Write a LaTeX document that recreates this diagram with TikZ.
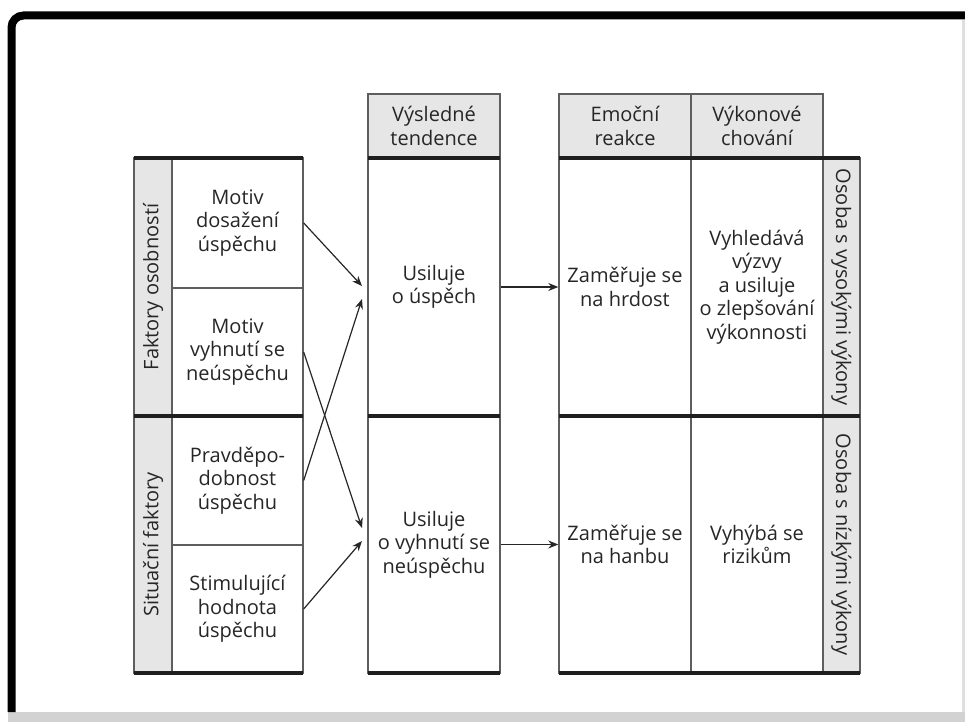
\documentclass[tikz,border=0pt]{standalone}
\usepackage{fontspec}
\setmainfont{Open Sans}
\usetikzlibrary{arrows.meta}
\definecolor{rule}{HTML}{5E5E5E}
\definecolor{shade}{HTML}{E6E6E6}
\definecolor{ink}{HTML}{262626}
\tikzset{
  cell/.style={draw=rule, line width=0.7pt, text=ink, align=center, inner sep=1pt},
  headcell/.style={cell, fill=shade, minimum width=66pt, minimum height=32pt},
  stripcell/.style={cell, fill=shade, inner sep=0pt},
  boldrule/.style={draw=black!88, line width=1.6pt}
}

\begin{document}
\begin{tikzpicture}[x=0.5pt, y=-0.5pt, font=\fontsize{10}{11.75}\selectfont]
        \useasboundingbox (0,0) rectangle (965,722);
        % frame
        \fill[white] (0,0) rectangle (965,722);
        \fill[gray!35] (8,712) rectangle (965,722);
        \draw[gray!25, line width=1.5pt] (963,20) -- (963,712);
        \draw[line width=4pt, rounded corners=6pt] (11.5,712) -- (11.5,15.5) -- (965,15.5);
        % arrow targets
        \coordinate (t1) at (362,286);
        \coordinate (t2) at (362,299);
        \coordinate (t3) at (362,528);
        \coordinate (t4) at (362,541);
        \begin{scope}[every node/.style={cell, minimum width=65.5pt}]
                \node[stripcell, rotate=90, minimum width=129pt, minimum height=19pt] (FO) at (153,287) {Faktory osobností};
                \node[stripcell, rotate=90, minimum width=128.5pt, minimum height=19pt] (SF) at (153,544.5) {Situační faktory};
                \node[minimum height=65pt] (MDA) at (237.5,223) {Motiv\\dosažení\\úspěchu};
                \node[minimum height=64pt] (MVN) at (237.5,352) {Motiv\\vyhnutí se\\neúspěchu};
                \node[minimum height=64.5pt] (PDU) at (237.5,480.5) {Pravděpo-\\dobnost\\úspěchu};
                \node[minimum height=64pt] (SHU) at (237.5,609) {Stimulující\\hodnota\\úspěchu};
        \end{scope}
        \begin{scope}[every node/.style={cell, minimum width=66pt}]
                \node[headcell] (VT) at (434,126) {Výsledné\\tendence};
                \node[minimum height=129pt] (USP) at (434,287) {Usiluje\\o úspěch};
                \node[minimum height=128.5pt] (UVN) at (434,544.5) {Usiluje\\o vyhnutí se\\neúspěchu};
                \node[headcell] (ER) at (625,126) {Emoční\\reakce};
                \node[headcell] (VC) at (757,126) {Výkonové\\chování};
                \node[minimum height=129pt] (ZH) at (625,287) {Zaměřuje se\\na hrdost};
                \node[minimum height=129pt] (VV) at (757,287) {Vyhledává\\výzvy\\a usiluje\\o zlepšování\\výkonnosti};
                \node[minimum height=128.5pt] (ZHB) at (625,544.5) {Zaměřuje se\\na hanbu};
                \node[minimum height=128.5pt] (VR) at (757,544.5) {Vyhýbá se\\rizikům};
                \node[stripcell, rotate=-90, minimum width=129pt, minimum height=18.5pt] (OVV) at (841.5,287) {Osoba s vysokými výkony};
                \node[stripcell, rotate=-90, minimum width=128.5pt, minimum height=18.5pt] (ONV) at (841.5,544.5) {Osoba s nízkými výkony};
        \end{scope}
        % heavy rules
        \foreach \y in {158,416,673} {
                \draw[boldrule] (134,\y) -- (303,\y);
                \draw[boldrule] (368,\y) -- (500,\y);
                \draw[boldrule] (559,\y) -- (860,\y);
        }
        \begin{scope}[>={Stealth[length=5pt,width=4pt]}, every edge/.style={draw=ink, line width=0.6pt, ->}]
                \path (MDA.east) edge (t1);
                \path (PDU.east) edge (t2);
                \path (MVN.east) edge (t3);
                \path (SHU.east) edge (t4);
                \path (USP) edge (ZH);
                \path (UVN) edge (ZHB);
        \end{scope}
\end{tikzpicture}
\end{document}
